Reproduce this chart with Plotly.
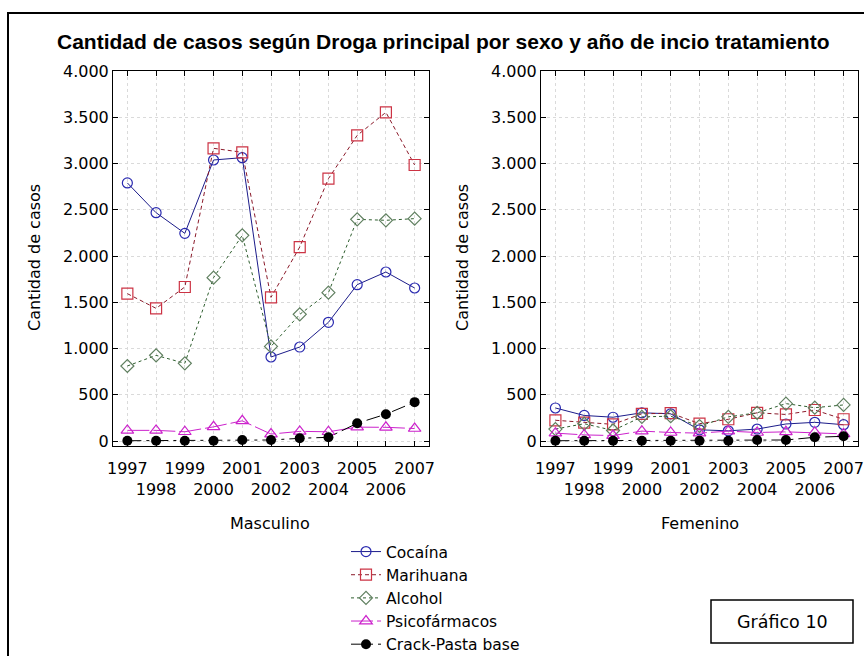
import plotly.graph_objects as go

years = [1997, 1998, 1999, 2000, 2001, 2002, 2003, 2004, 2005, 2006, 2007]
year_labels = ["1997", "<br>1998", "1999", "<br>2000", "2001", "<br>2002",
               "2003", "<br>2004", "2005", "<br>2006", "2007"]

series_names = ["Cocaína", "Marihuana", "Alcohol", "Psicofármacos", "Crack-Pasta base"]

# Masculino
masc_cocaina = [2790, 2468, 2245, 3038, 3063, 908, 1016, 1283, 1690, 1827, 1654]
masc_marihuana = [1593, 1434, 1665, 3164, 3121, 1553, 2097, 2836, 3304, 3553, 2984]
masc_alcohol = [811, 926, 840, 1766, 2223, 1023, 1369, 1604, 2396, 2386, 2404]
masc_psico = [115, 115, 100, 153, 218, 75, 104, 100, 150, 148, 135]
masc_crack = [3, 3, 3, 3, 11, 11, 29, 40, 192, 290, 420]

# Femenino
fem_cocaina = [357, 276, 257, 305, 294, 121, 110, 129, 184, 202, 176]
fem_marihuana = [224, 198, 180, 294, 301, 187, 235, 305, 287, 335, 235]
fem_alcohol = [129, 187, 114, 261, 268, 162, 261, 305, 404, 360, 390]
fem_psico = [85, 66, 59, 107, 92, 85, 107, 92, 99, 92, 77]
fem_crack = [3, 3, 3, 3, 3, 3, 3, 11, 11, 40, 51]

masc = [masc_cocaina, masc_marihuana, masc_alcohol, masc_psico, masc_crack]
fem = [fem_cocaina, fem_marihuana, fem_alcohol, fem_psico, fem_crack]

styles = [
    dict(line=dict(color="#1c1c8a", width=1, dash="solid"),
         marker=dict(symbol="circle-open", size=10, color="#2a2ab0", line=dict(width=1.2))),
    dict(line=dict(color="#8b1a2a", width=1, dash="4px,3px"),
         marker=dict(symbol="square-open", size=11, color="#cc3344", line=dict(width=1.2))),
    dict(line=dict(color="#2f5f2f", width=1, dash="dot"),
         marker=dict(symbol="diamond-open", size=10, color="#5f7f5f", line=dict(width=1.2))),
    dict(line=dict(color="#cc22cc", width=1, dash="22px,4px"),
         marker=dict(symbol="triangle-up-open", size=11, color="#cc22cc", line=dict(width=1.2))),
    dict(line=dict(color="#000000", width=1, dash="14px,5px,3px,5px"),
         marker=dict(symbol="circle", size=10, color="#000000")),
]

fig = go.Figure()
for i, name in enumerate(series_names):
    fig.add_trace(go.Scatter(x=years, y=masc[i], name=name, mode="lines+markers",
                             legendgroup=name, showlegend=True,
                             xaxis="x", yaxis="y", **styles[i]))
for i, name in enumerate(series_names):
    fig.add_trace(go.Scatter(x=years, y=fem[i], name=name, mode="lines+markers",
                             legendgroup=name, showlegend=False,
                             xaxis="x2", yaxis="y2", **styles[i]))

W, H = 864, 656
font = "DejaVu Sans, sans-serif"
title_font = "Liberation Sans, Arial, sans-serif"

def px_x(p):
    return p / W

def px_y(p):
    return 1 - p / H

xaxis_common = dict(
    range=[1996.5, 2007.5], tickvals=years, ticktext=year_labels, tickangle=0,
    showline=True, linecolor="black", linewidth=1, mirror="allticks",
    ticks="inside", ticklen=5, tickcolor="black", ticklabelstandoff=8,
    showgrid=True, gridcolor="#dadada", griddash="dot", gridwidth=1,
    zeroline=False, tickfont=dict(size=16, color="black", family=font),
    automargin=False,
)
yaxis_common = dict(
    range=[-54, 4000], dtick=500, tick0=0, tickformat=",d",
    showline=True, linecolor="black", linewidth=1, mirror="allticks",
    ticks="inside", ticklen=5, tickcolor="black",
    showgrid=True, gridcolor="#dadada", griddash="dot", gridwidth=1,
    zeroline=False, tickfont=dict(size=16, color="black", family=font),
    automargin=False,
)

fig.update_layout(
    width=W, height=H,
    margin=dict(l=0, r=0, t=0, b=0, autoexpand=False),
    paper_bgcolor="white", plot_bgcolor="white",
    separators=",.",
    font=dict(family=font, color="black"),
    xaxis=dict(domain=[px_x(113), px_x(429)], anchor="y", **xaxis_common),
    yaxis=dict(domain=[px_y(446), px_y(71)], anchor="x", **yaxis_common),
    xaxis2=dict(domain=[px_x(541), px_x(858)], anchor="y2", **xaxis_common),
    yaxis2=dict(domain=[px_y(446), px_y(71)], anchor="x2", **yaxis_common),
    legend=dict(x=px_x(346), y=px_y(535), xanchor="left", yanchor="top",
                font=dict(size=15.5, color="black", family=font),
                bgcolor="rgba(0,0,0,0)", borderwidth=0, tracegroupgap=0),
    showlegend=True,
)

annotations = [
    dict(text="<b>Cantidad de casos según Droga principal por sexo y año de incio tratamiento</b>",
         x=px_x(443), y=px_y(41), xref="paper", yref="paper", showarrow=False,
         font=dict(size=21, color="black", family=title_font), xanchor="center", yanchor="middle"),
    dict(text="Cantidad de casos", x=px_x(34), y=px_y(258), xref="paper", yref="paper",
         showarrow=False, textangle=-90, font=dict(size=16, color="black", family=font),
         xanchor="center", yanchor="middle"),
    dict(text="Cantidad de casos", x=px_x(462), y=px_y(258), xref="paper", yref="paper",
         showarrow=False, textangle=-90, font=dict(size=16, color="black", family=font),
         xanchor="center", yanchor="middle"),
    dict(text="Masculino", x=px_x(270), y=px_y(523), xref="paper", yref="paper",
         showarrow=False, font=dict(size=16, color="black", family=font),
         xanchor="center", yanchor="middle"),
    dict(text="Femenino", x=px_x(700), y=px_y(523), xref="paper", yref="paper",
         showarrow=False, font=dict(size=16, color="black", family=font),
         xanchor="center", yanchor="middle"),
    dict(text="Gráfico 10", x=px_x(782), y=px_y(622), xref="paper", yref="paper",
         showarrow=False, font=dict(size=17.5, color="black", family=font),
         xanchor="center", yanchor="middle"),
]
fig.update_layout(annotations=annotations)

shapes = [
    dict(type="rect", xref="paper", yref="paper",
         x0=px_x(8), x1=px_x(880), y0=px_y(680), y1=px_y(13),
         line=dict(color="black", width=2), fillcolor="rgba(0,0,0,0)", layer="above"),
    dict(type="rect", xref="paper", yref="paper",
         x0=px_x(711), x1=px_x(853), y0=px_y(643), y1=px_y(600),
         line=dict(color="black", width=1.5), fillcolor="rgba(0,0,0,0)"),
]
fig.update_layout(shapes=shapes)

fig.write_html("out.html", config={"displayModeBar": False},
               post_script="document.body.style.margin='0';document.body.style.overflow='hidden';")
